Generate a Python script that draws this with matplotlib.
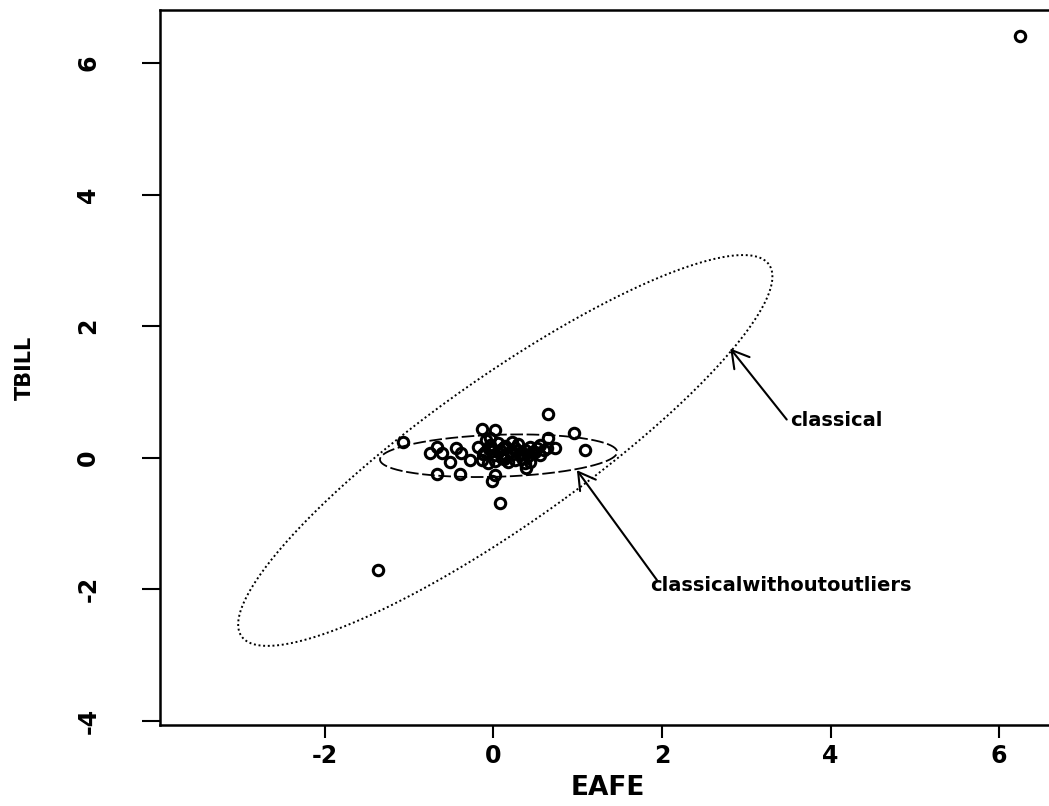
import numpy as np
import matplotlib
matplotlib.use("Agg")
import matplotlib.pyplot as plt

eafe = [6.25, -1.37, 0.08, 0.65, -1.07, 0.95, 1.09, 0.65, -0.14, 0.02, -0.04,
        -0.67, -0.75, -0.61, -0.44, -0.38, -0.52, -0.28, -0.67, -0.40, 0.02,
        -0.02, 0.39, 0.43, 0.63, 0.73,
        -0.18, -0.10, -0.04, 0.02, 0.08, 0.14, 0.20, 0.26, 0.31, 0.37, 0.43,
        0.49, 0.55, -0.14, -0.07, 0.02, 0.10, 0.17, 0.26, 0.34, 0.41, 0.05,
        0.22, 0.29, -0.02, 0.15, 0.55, 0.60, -0.09, 0.37,
        -0.12, 0.05, 0.11, 0.23, 0.33, 0.46, 0.12, 0.28, 0.52, -0.05]
tbill = [6.41, -1.70, -0.69, 0.66, 0.24, 0.37, 0.12, 0.30, 0.44, 0.42, 0.30,
         0.17, 0.07, 0.07, 0.14, 0.07, -0.06, -0.03, -0.25, -0.24, -0.26,
         -0.36, -0.16, -0.06, 0.14, 0.14,
         0.16, 0.09, 0.19, 0.04, 0.12, 0.18, 0.09, 0.15, 0.04, 0.12, 0.16,
         0.09, 0.04, -0.03, -0.08, -0.05, 0.00, -0.07, -0.03, 0.00, 0.03, 0.22,
         0.24, 0.21, 0.10, 0.04, 0.19, 0.12, 0.27, -0.08,
         0.05, 0.08, 0.14, 0.06, 0.07, 0.08, -0.02, 0.10, 0.15, 0.13]

# ellipses: centre and shape matrix (x' M^-1 x = 1)
classical_center = [0.14, 0.11]
classical_shape = [[10.05, 8.38], [8.38, 8.82]]
robust_center = [0.06, 0.03]
robust_shape = [[1.98, 0.08], [0.08, 0.105]]

x_ticks = [-2, 0, 2, 4, 6]
y_ticks = [-4, -2, 0, 2, 4, 6]


def ellipse_xy(center, shape, n=400):
    vals, vecs = np.linalg.eigh(np.array(shape))
    t = np.linspace(0, 2 * np.pi, n)
    circ = np.vstack([np.cos(t), np.sin(t)])
    pts = vecs @ (np.sqrt(vals)[:, None] * circ)
    return pts[0] + center[0], pts[1] + center[1]


plt.rcParams['font.family'] = ['DejaVu Sans']
plt.rcParams['font.weight'] = 'bold'

fig = plt.figure(figsize=(10.49, 8.06), dpi=100)
ax = fig.add_axes([0.1525, 0.1005, 0.86, 0.8871])

ax.plot(eafe, tbill, 'o', mfc='none', mec='black', ms=7.5, mew=2.2)

ex, ey = ellipse_xy(classical_center, classical_shape)
ax.plot(ex, ey, color='black', lw=1.4, linestyle=(0, (1, 1.4)))
ex, ey = ellipse_xy(robust_center, robust_shape)
ax.plot(ex, ey, color='black', lw=1.3, linestyle=(0, (7, 2)))

arrow = dict(arrowstyle='->,head_length=0.6,head_width=0.35', color='black',
             lw=1.5, mutation_scale=20, shrinkA=0, shrinkB=0)
ax.annotate('', xy=(2.81, 1.66), xytext=(3.48, 0.58), arrowprops=arrow)
ax.text(3.52, 0.57, 'classical', fontsize=14, fontweight='bold',
        ha='left', va='center')
ax.annotate('', xy=(0.99, -0.19), xytext=(1.94, -1.86), arrowprops=arrow)
ax.text(1.86, -1.94, 'classicalwithoutoutliers', fontsize=14,
        fontweight='bold', ha='left', va='center')

ax.set_xlim(-3.958, 6.748)
ax.set_ylim(-4.062, 6.804)
ax.set_xticks(x_ticks)
ax.set_xticklabels([str(v) for v in x_ticks])
ax.set_yticks(y_ticks)
ax.set_yticklabels([str(v) for v in y_ticks], rotation=90, va='center')
ax.tick_params(axis='x', length=9, width=1.5, pad=5, labelsize=17)
ax.tick_params(axis='y', length=13, width=1.5, pad=30, labelsize=17)
for s in ax.spines.values():
    s.set_linewidth(1.8)

ax.set_xlabel('EAFE', fontsize=19, fontweight='bold')
ax.xaxis.label.set_va('center')
ax.xaxis.set_label_coords((608 - 160) / 902, -(788 - 725) / 715)
ax.set_ylabel('TBILL', fontsize=15, fontweight='bold')
ax.yaxis.set_label_coords(-(160 - 35) / 902, 0.5)

fig.savefig('out.png', dpi=100)
